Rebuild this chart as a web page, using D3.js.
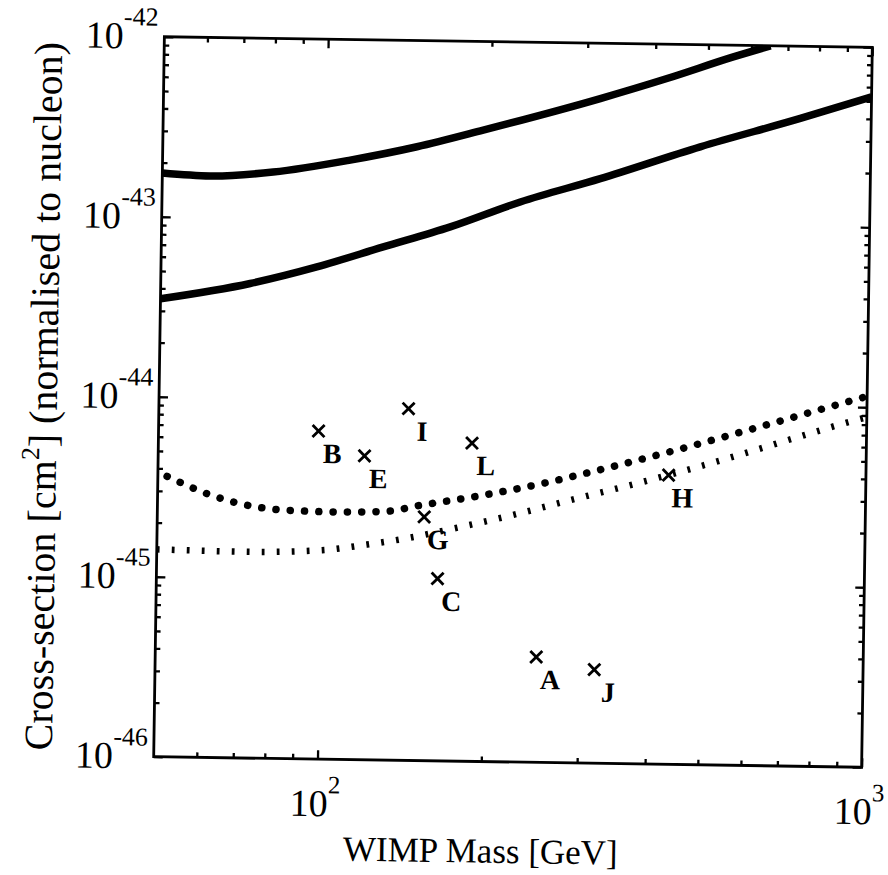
<!DOCTYPE html>
<html><head><meta charset="utf-8">
<script src="https://cdn.jsdelivr.net/npm/d3@7"></script>
<style>body{margin:0;background:#fff}svg{display:block}text{font-family:"Liberation Serif","Times New Roman",Times,serif}</style>
</head><body><svg id="c" width="888" height="875"></svg>
<script>
// ---- data ----
const upperSolidMass  = [50, 61.2, 79.9, 110.6, 146.6, 193.8, 317.4, 420.3, 555.7, 650];
const upperSolidSigma = [1.75e-43, 1.70e-43, 1.81e-43, 2.14e-43, 2.57e-43, 3.22e-43, 4.93e-43, 6.45e-43, 8.61e-43, 1.0e-42];
const lowerSolidMass  = [50, 73.0, 96.7, 127.9, 169.6, 227.7, 319.0, 486.0, 740.8, 1000];
const lowerSolidSigma = [3.5e-44, 4.33e-44, 5.42e-44, 7.09e-44, 9.28e-44, 1.294e-43, 1.77e-43, 2.71e-43, 3.97e-43, 5.3e-43];
const upperDotMass  = [52, 62.9, 75.9, 85.9, 106.1, 131.2, 152.0, 198.3, 254.1, 324.9, 445.7, 628.7, 918.9, 1000];
const upperDotSigma = [3.62e-45, 2.86e-45, 2.49e-45, 2.40e-45, 2.37e-45, 2.41e-45, 2.62e-45, 3.02e-45, 3.54e-45, 4.28e-45, 5.56e-45, 7.55e-45, 1.066e-44, 1.15e-44];
const lowerDotMass  = [50, 74.2, 100.6, 121.6, 146.0, 175.1, 224.2, 286.7, 387.8, 554.9, 749.4, 952.6, 1000];
const lowerDotSigma = [1.42e-45, 1.40e-45, 1.45e-45, 1.57e-45, 1.73e-45, 1.96e-45, 2.35e-45, 2.88e-45, 3.68e-45, 5.05e-45, 6.75e-45, 8.45e-45, 8.8e-45];
const modelNames = ["A", "B", "C", "E", "G", "H", "I", "J", "L"];
const modelMass  = [250.7, 98.4, 164.3, 119.7, 154.7, 433.9, 143.8, 320.7, 188.5];
const modelSigma = [3.85e-46, 6.65e-45, 1.03e-45, 4.88e-45, 2.26e-45, 4.04e-45, 9.0e-45, 3.31e-46, 5.87e-45];
const xMajorTicks = [100, 1000];
const xMajorExp = ["2", "3"];
const yMajorTicks = [1e-42, 1e-43, 1e-44, 1e-45, 1e-46];
const yMajorExp = ["-42", "-43", "-44", "-45", "-46"];
const xTitle = "WIMP Mass [GeV]";

// ---- layout ----
const L = 159, R = 867, T = 42, B = 762;
const svg = d3.select("#c");
const root = svg.append("g").attr("transform", "rotate(0.85,512.75,401.75)");

const x = d3.scaleLog().domain([50, 1000]).range([L, R]);
const y = d3.scaleLog().domain([1e-46, 1e-42]).range([B, T]);

// minor ticks
const xMinor = [];
[10, 100].forEach(d => { for (let k = 2; k <= 9; k++) { const v = d * k; if (v > 50 && v < 1000 && v !== 100) xMinor.push(v); } });
const yMinor = [];
for (let e = -46; e < -42; e++) for (let k = 2; k <= 9; k++) yMinor.push(k * Math.pow(10, e));

function axisDraw(gen, tr, vals, size) {
  const g = root.append("g").attr("transform", tr)
    .call(gen.tickValues(vals).tickSize(size).tickFormat(""));
  g.select(".domain").remove();
  g.selectAll(".tick line").attr("stroke", "#000").attr("stroke-width", 2.3);
}
axisDraw(d3.axisBottom(x), `translate(0,${B})`, xMinor, -5);
axisDraw(d3.axisBottom(x), `translate(0,${B})`, xMajorTicks, -9);
axisDraw(d3.axisTop(x), `translate(0,${T})`, xMinor, -5);
axisDraw(d3.axisTop(x), `translate(0,${T})`, xMajorTicks, -9);
axisDraw(d3.axisLeft(y), `translate(${L},0)`, yMinor, -5);
axisDraw(d3.axisLeft(y), `translate(${L},0)`, yMajorTicks, -9);
axisDraw(d3.axisRight(y), `translate(${R},0)`, yMinor, -5);
axisDraw(d3.axisRight(y), `translate(${R},0)`, yMajorTicks, -9);

// frame
root.append("rect").attr("x", L).attr("y", T).attr("width", R - L).attr("height", B - T)
  .attr("fill", "none").attr("stroke", "#000").attr("stroke-width", 2.8);

// clip
svg.append("defs").append("clipPath").attr("id", "clip")
  .append("rect").attr("x", L).attr("y", T).attr("width", R - L).attr("height", B - T);
const plot = root.append("g").attr("clip-path", "url(#clip)");

const line = d3.line().x(d => x(d[0])).y(d => y(d[1])).curve(d3.curveMonotoneX);
const zip = (a, b) => a.map((v, i) => [v, b[i]]);

plot.append("path").attr("d", line(zip(upperSolidMass, upperSolidSigma)))
  .attr("fill", "none").attr("stroke", "#000").attr("stroke-width", 7.5);
plot.append("path").attr("d", line(zip(lowerSolidMass, lowerSolidSigma)))
  .attr("fill", "none").attr("stroke", "#000").attr("stroke-width", 7.5);
plot.append("path").attr("d", line(zip(upperDotMass, upperDotSigma)))
  .attr("fill", "none").attr("stroke", "#000").attr("stroke-width", 7.5)
  .attr("stroke-linecap", "round").attr("stroke-dasharray", "0.1,14.2");
plot.append("path").attr("d", line(zip(lowerDotMass, lowerDotSigma)))
  .attr("fill", "none").attr("stroke", "#000").attr("stroke-width", 6.5)
  .attr("stroke-dasharray", "2.8,12.2");

// model points
const cs = 6;
const models = modelNames.map((n, i) => ({ n, m: modelMass[i], s: modelSigma[i] }));
const mg = root.append("g").selectAll("g").data(models).join("g")
  .attr("transform", d => `translate(${x(d.m)},${y(d.s)})`);
mg.append("path").attr("d", `M${-cs},${-cs}L${cs},${cs}M${-cs},${cs}L${cs},${-cs}`)
  .attr("stroke", "#000").attr("stroke-width", 2.8);
mg.append("text").attr("x", 14).attr("y", 32).attr("text-anchor", "middle")
  .attr("font-weight", "bold").attr("font-size", 28)
  .text(d => d.n);

// y tick labels
yMajorTicks.forEach((v, i) => {
  const t = root.append("text").attr("x", L - 6).attr("y", y(v) + 12)
    .attr("text-anchor", "end").attr("font-size", 38);
  t.append("tspan").text("10");
  t.append("tspan").attr("font-size", 26).attr("dy", -23).text(yMajorExp[i]);
});
// x tick labels
xMajorTicks.forEach((v, i) => {
  const t = root.append("text").attr("x", x(v) - 2).attr("y", B + 57)
    .attr("text-anchor", "middle").attr("font-size", 38);
  t.append("tspan").text("10");
  t.append("tspan").attr("font-size", 25).attr("dy", -23).text(xMajorExp[i]);
});

// axis titles
root.append("text").attr("x", 487).attr("y", 863).attr("text-anchor", "middle")
  .attr("font-size", 35).text(xTitle);
const yt = root.append("text").attr("transform", "translate(57,403) rotate(-90)")
  .attr("text-anchor", "middle").attr("font-size", 40);
yt.append("tspan").text("Cross-section [cm");
yt.append("tspan").attr("font-size", 26).attr("dy", -17).text("2");
yt.append("tspan").attr("dy", 17).text("] (normalised to nucleon)");
</script></body></html>
